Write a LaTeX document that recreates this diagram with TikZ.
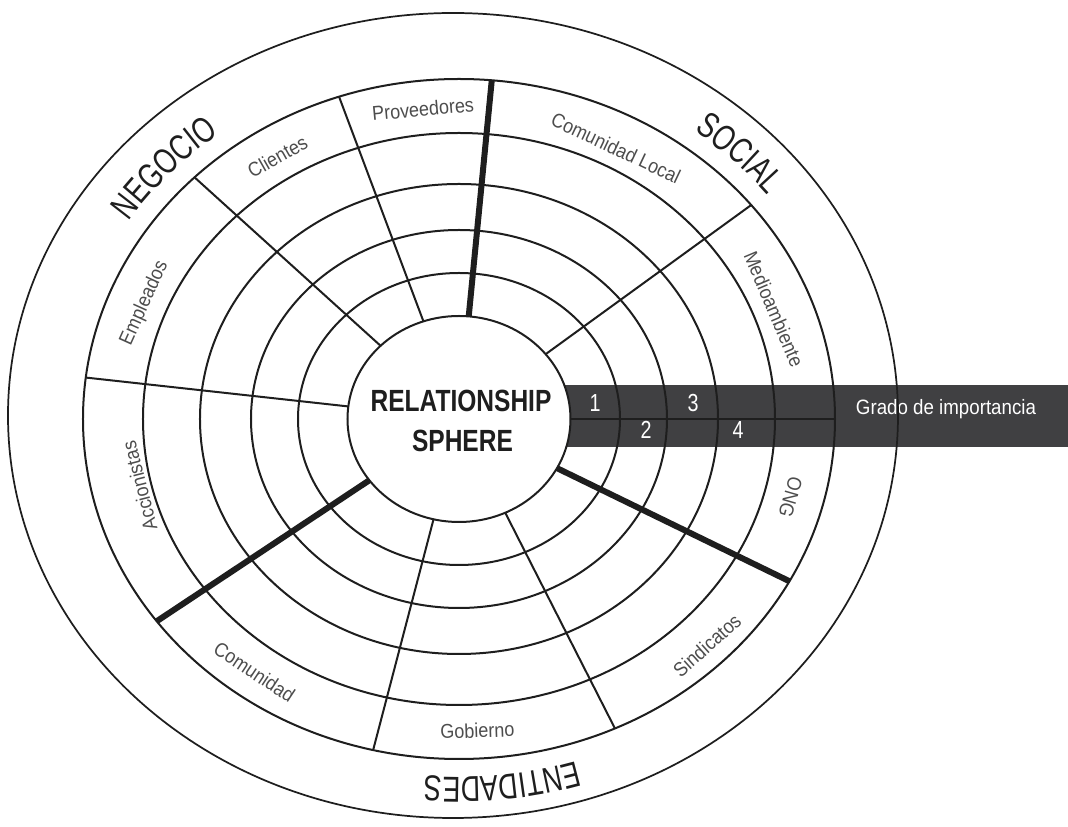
\documentclass[tikz,border=0pt]{standalone}
\usepackage{fontspec}
\usepackage{xcolor}
\usetikzlibrary{decorations.text}

\newfontfamily\lblfont[FakeStretch=0.9]{Liberation Sans}
\newfontfamily\condfont[FakeStretch=0.8]{Liberation Sans}
\newfontfamily\catfont[FakeStretch=0.74]{Liberation Sans}

\definecolor{bandgray}{HTML}{404042}
\definecolor{lblgray}{HTML}{4D4D4D}
\definecolor{ink}{HTML}{1E1E1E}

\tikzset{
  ring/.style={draw=ink, line width=1.5pt},
  spoke/.style={draw=ink, line width=1.5pt},
  thickspoke/.style={draw=ink, line width=4.5pt},
  lbl/.style={font=\lblfont\fontsize{15}{17}\selectfont, text=lblgray, inner sep=0pt},
  num/.style={font=\condfont\fontsize{18.5}{20}\selectfont, text=white, inner sep=0pt, anchor=base},
  centre/.style={font=\condfont\bfseries\fontsize{23}{28}\selectfont, text=ink, inner sep=0pt, anchor=base},
  catlbl/.style={decorate, decoration={text along path, text align=center,
      text={|\catfont\fontsize{27}{30}\selectfont\color{ink}|#1}}}
}

\begin{document}
\begin{tikzpicture}[x=0.75pt, y=0.75pt]
\useasboundingbox (-459,-408) rectangle (609,419);

% band of the scale
\fill[bandgray] (0,-28) rectangle (609,34);
\node[lbl, text=white, font=\lblfont\fontsize{15.6}{17}\selectfont, anchor=base]
       (grado) at (487,4) {Grado de importancia};
\node[num] (n1) at (136,7) {1};
\node[num] (n2) at (187,-20) {2};
\node[num] (n3) at (234,7) {3};
\node[num] (n4) at (279,-20) {4};

% rings
\draw[ring] (0,0) ellipse [x radius=161, y radius=146];
\draw[ring] (0,0) ellipse [x radius=208, y radius=189];
\draw[ring] (0,0) ellipse [x radius=259, y radius=235];
\draw[ring] (0,0) ellipse [x radius=316, y radius=286];
\draw[ring] (0,0) ellipse [x radius=376, y radius=340];
\draw[ring, line width=1.3pt] (-6,3.5) ellipse [x radius=445, y radius=402.5];

% centre
\draw[ring, fill=white] (0,0) ellipse [x radius=111.5, y radius=103];
\node[centre] (rel) at (2,7) {RELATIONSHIP};
\node[centre] (sph) at (3.5,-33) {SPHERE};

% spokes
\draw[thickspoke] (85:111.5 and 103) -- (85:376 and 340);
\draw[spoke] (108.6:111.5 and 103) -- (108.6:376 and 340);
\draw[spoke] (134.7:111.5 and 103) -- (134.7:376 and 340);
\draw[spoke] (173:111.5 and 103) -- (173:376 and 340);
\draw[thickspoke] (216.5:111.5 and 103) -- (216.5:376 and 340);
\draw[spoke] (256.8:111.5 and 103) -- (256.8:376 and 340);
\draw[spoke] (294.5:111.5 and 103) -- (294.5:376 and 340);
\draw[thickspoke] (331.5:111.5 and 103) -- (331.5:376 and 340);
\draw[spoke] (0:111.5 and 103) -- (0:376 and 340);
\draw[spoke] (39:111.5 and 103) -- (39:376 and 340);

% groups of the sphere
\node[lbl, rotate=5.4] (prov) at (-36,310) {Proveedores};
\node[lbl, rotate=29.5] (cli) at (-181.5,262.5) {Clientes};
\node[lbl, rotate=65.7] (emp) at (-314.5,116) {Empleados};
\node[lbl, rotate=104.3] (acc) at (-319.5,-67) {Accionistas};
\node[lbl, rotate=-33.5] (com) at (-204.5,-253) {Comunidad};
\node[lbl, rotate=2] (gob) at (18.5,-311.5) {Gobierno};
\node[lbl, rotate=41.8] (sin) at (248,-226.6) {Sindicatos};
\node[lbl, rotate=-106.2] (ong) at (331.5,-78.5) {ONG};
\node[lbl, rotate=-67] (med) at (315,110) {Medioambiente};
\node[lbl, rotate=-25.3] (cloc) at (157,271) {Comunidad Local};

% categories
\path[catlbl=NEGOCIO] (178:396 and 358)
   arc [start angle=178, end angle=98, x radius=396, y radius=358];
\path[catlbl=SOCIAL] (85:396 and 358)
   arc [start angle=85, end angle=5, x radius=396, y radius=358];
\path[catlbl=ENTIDADES] (316.4:396 and 358)
   arc [start angle=316.4, end angle=236.4, x radius=396, y radius=358];
\end{tikzpicture}
\end{document}
